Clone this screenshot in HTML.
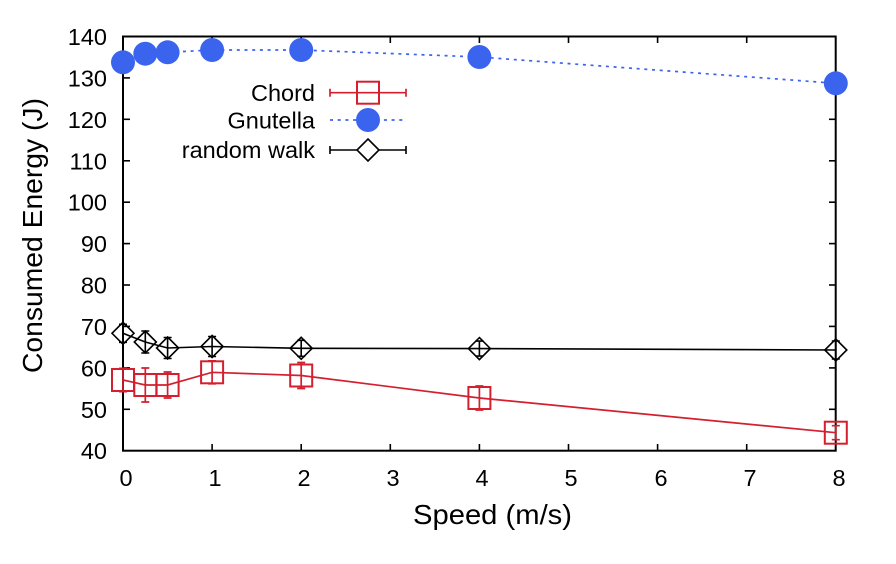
<!DOCTYPE html>
<html><head><meta charset="utf-8"><style>
html,body{margin:0;padding:0;background:#fff;}
svg{display:block;}
text{font-family:"Liberation Sans",Arial,sans-serif;fill:#000;}
</style></head><body>
<svg width="896" height="564" viewBox="0 0 896 564" xmlns="http://www.w3.org/2000/svg">
<rect width="896" height="564" fill="#fff"/>
<!-- ticks -->
<g stroke="#000" stroke-width="1.6">
<line x1="123" y1="36.5" x2="130" y2="36.5"/><line x1="829" y1="36.5" x2="835.7" y2="36.5"/>
<line x1="123" y1="77.9" x2="130" y2="77.9"/><line x1="829" y1="77.9" x2="835.7" y2="77.9"/>
<line x1="123" y1="119.3" x2="130" y2="119.3"/><line x1="829" y1="119.3" x2="835.7" y2="119.3"/>
<line x1="123" y1="160.8" x2="130" y2="160.8"/><line x1="829" y1="160.8" x2="835.7" y2="160.8"/>
<line x1="123" y1="202.2" x2="130" y2="202.2"/><line x1="829" y1="202.2" x2="835.7" y2="202.2"/>
<line x1="123" y1="243.6" x2="130" y2="243.6"/><line x1="829" y1="243.6" x2="835.7" y2="243.6"/>
<line x1="123" y1="285" x2="130" y2="285"/><line x1="829" y1="285" x2="835.7" y2="285"/>
<line x1="123" y1="326.4" x2="130" y2="326.4"/><line x1="829" y1="326.4" x2="835.7" y2="326.4"/>
<line x1="123" y1="367.9" x2="130" y2="367.9"/><line x1="829" y1="367.9" x2="835.7" y2="367.9"/>
<line x1="123" y1="409.3" x2="130" y2="409.3"/><line x1="829" y1="409.3" x2="835.7" y2="409.3"/>
<line x1="212.1" y1="450.7" x2="212.1" y2="444"/><line x1="212.1" y1="36.5" x2="212.1" y2="43"/>
<line x1="301.2" y1="450.7" x2="301.2" y2="444"/><line x1="301.2" y1="36.5" x2="301.2" y2="43"/>
<line x1="390.3" y1="450.7" x2="390.3" y2="444"/><line x1="390.3" y1="36.5" x2="390.3" y2="43"/>
<line x1="479.4" y1="450.7" x2="479.4" y2="444"/><line x1="479.4" y1="36.5" x2="479.4" y2="43"/>
<line x1="568.5" y1="450.7" x2="568.5" y2="444"/><line x1="568.5" y1="36.5" x2="568.5" y2="43"/>
<line x1="657.6" y1="450.7" x2="657.6" y2="444"/><line x1="657.6" y1="36.5" x2="657.6" y2="43"/>
<line x1="746.7" y1="450.7" x2="746.7" y2="444"/><line x1="746.7" y1="36.5" x2="746.7" y2="43"/>
</g>
<rect x="123" y="36.5" width="712.7" height="414.2" fill="none" stroke="#000" stroke-width="2"/>
<!-- y labels -->
<g font-size="23.5" text-anchor="end">
<text x="107" y="45">140</text><text x="107" y="86.4">130</text><text x="107" y="127.8">120</text>
<text x="107" y="169.3">110</text><text x="107" y="210.7">100</text><text x="107" y="252.1">90</text>
<text x="107" y="293.5">80</text><text x="107" y="334.9">70</text><text x="107" y="376.4">60</text>
<text x="107" y="417.8">50</text><text x="107" y="459.2">40</text>
</g>
<g font-size="23.5" text-anchor="middle">
<text x="126" y="486">0</text><text x="215" y="486">1</text><text x="304" y="486">2</text>
<text x="393" y="486">3</text><text x="482" y="486">4</text><text x="571" y="486">5</text>
<text x="661" y="486">6</text><text x="750" y="486">7</text><text x="839" y="486">8</text>
</g>
<text x="492.5" y="524" font-size="28" text-anchor="middle" textLength="159" lengthAdjust="spacingAndGlyphs">Speed (m/s)</text>
<text transform="translate(42,235.5) rotate(-90)" x="0" y="0" font-size="28" text-anchor="middle" textLength="275" lengthAdjust="spacingAndGlyphs">Consumed Energy (J)</text>

<!-- random walk -->
<g stroke="#000" stroke-width="1.6" fill="none">
<polyline points="123,333.3 145.3,342 167.6,348 212.1,346.5 301.2,348.3 479.4,348.6 835.8,350"/>
<path d="M123,324.3V342.3M119,324.3H127M119,342.3H127
M145.3,331V353M141.3,331H149.3M141.3,353H149.3
M167.6,337.5V358.5M163.6,337.5H171.6M163.6,358.5H171.6
M212.1,336.5V356.5M208.1,336.5H216.1M208.1,356.5H216.1
M301.2,340.3V356.3M297.2,340.3H305.2M297.2,356.3H305.2
M479.4,341.1V356.1M475.4,341.1H483.4M475.4,356.1H483.4
M835.8,341V359M831.8,341H839.8M831.8,359H839.8"/>
<path d="M123,322.3L134,333.3L123,344.3L112,333.3Z"/>
<path d="M145.3,331L156.3,342L145.3,353L134.3,342Z"/>
<path d="M167.6,337L178.6,348L167.6,359L156.6,348Z"/>
<path d="M212.1,335.5L223.1,346.5L212.1,357.5L201.1,346.5Z"/>
<path d="M301.2,337.3L312.2,348.3L301.2,359.3L290.2,348.3Z"/>
<path d="M479.4,337.6L490.4,348.6L479.4,359.6L468.4,348.6Z"/>
<path d="M835.8,339L846.8,350L835.8,361L824.8,350Z"/>
</g>
<!-- chord -->
<g stroke="#d41f2e" stroke-width="1.7" fill="none">
<polyline points="123,380 145.3,385 167.6,385 212.1,372.3 301.2,375.5 479.4,398 835.8,432.7"/>
<path d="M123,368.3V391.7M119,368.3H127M119,391.7H127
M145.3,368V402M141.3,368H149.3M141.3,402H149.3
M167.6,372V398M163.6,372H171.6M163.6,398H171.6
M212.1,360.8V383.8M208.1,360.8H216.1M208.1,383.8H216.1
M301.2,362.5V388.5M297.2,362.5H305.2M297.2,388.5H305.2
M479.4,386V410M475.4,386H483.4M475.4,410H483.4
M835.8,425.7V439.7M831.8,425.7H839.8M831.8,439.7H839.8"/>
</g>
<g stroke="#d41f2e" stroke-width="2" fill="none">
<rect x="112" y="369" width="22" height="22"/>
<rect x="134.3" y="374" width="22" height="22"/>
<rect x="156.6" y="374" width="22" height="22"/>
<rect x="201.1" y="361.3" width="22" height="22"/>
<rect x="290.2" y="364.5" width="22" height="22"/>
<rect x="468.4" y="387" width="22" height="22"/>
<rect x="824.8" y="421.7" width="22" height="22"/>
</g>
<!-- gnutella -->
<polyline points="123,62.3 145.3,53.7 167.6,52.3 212.1,50 301.2,50 479.4,57 835.8,83.3" fill="none" stroke="#3b64ee" stroke-width="1.7" stroke-dasharray="3 4.7"/>
<g fill="#3b64ee">
<circle cx="123" cy="62.3" r="12"/><circle cx="145.3" cy="53.7" r="12"/><circle cx="167.6" cy="52.3" r="12"/>
<circle cx="212.1" cy="50" r="12"/><circle cx="301.2" cy="50" r="12"/><circle cx="479.4" cy="57" r="12"/>
<circle cx="835.8" cy="83.3" r="12"/>
</g>
<!-- legend -->
<g font-size="23.5" text-anchor="end">
<text x="315" y="101">Chord</text>
<text x="315" y="128.5">Gnutella</text>
<text x="315" y="158">random walk</text>
</g>
<g stroke="#d41f2e" stroke-width="1.7" fill="none">
<path d="M330,92.7H406M330,88.7V96.7M406,88.7V96.7"/>
</g>
<rect x="357" y="81.7" width="22" height="22" fill="none" stroke="#d41f2e" stroke-width="2"/>
<line x1="330" y1="120" x2="406" y2="120" stroke="#3b64ee" stroke-width="1.7" stroke-dasharray="3 4.7"/>
<circle cx="368" cy="120" r="12" fill="#3b64ee"/>
<g stroke="#000" stroke-width="1.6" fill="none">
<path d="M330,150H406M330,146V154M406,146V154"/>
<path d="M368,139L379,150L368,161L357,150Z" fill="#fff"/>
</g>
</svg>
</body></html>
